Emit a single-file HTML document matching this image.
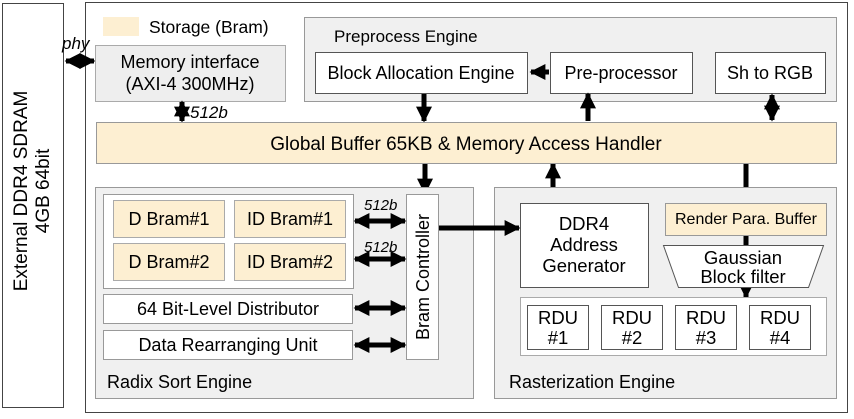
<!DOCTYPE html>
<html><head><meta charset="utf-8"><style>
html,body{margin:0;padding:0;background:#fff;}
svg{display:block;font-family:"Liberation Sans",Arial,sans-serif;}
</style></head><body>
<svg width="854" height="419" viewBox="0 0 854 419" xmlns="http://www.w3.org/2000/svg">
<defs>
<marker id="ah" viewBox="0 0 10 10" refX="9" refY="5" markerWidth="3.2" markerHeight="3.2" orient="auto-start-reverse"><path d="M0,0 L10,5 L0,10 z" fill="#000"/></marker>
</defs>
<g stroke="#444" stroke-width="1" fill="#fff">
<rect x="2.5" y="3.5" width="61" height="404"/>
<rect x="85.5" y="2.5" width="762" height="410"/>
</g>
<g fill="#000" font-size="19">
<text transform="translate(27,191) rotate(-90)" text-anchor="middle">External DDR4 SDRAM</text>
<text transform="translate(49,191) rotate(-90)" text-anchor="middle">4GB 64bit</text>
</g>
<rect x="103" y="17" width="36" height="19" fill="#fdefd2"/>
<text x="149" y="33" font-size="17.5">Storage (Bram)</text>
<text x="62" y="49" font-size="17" font-style="italic">phy</text>
<line x1="66" y1="61" x2="94" y2="61" stroke="#000" stroke-width="5" marker-start="url(#ah)" marker-end="url(#ah)"/>
<rect x="95.5" y="45.5" width="190" height="56" fill="#eeeeee" stroke="#aaa"/>
<text x="190" y="68" font-size="18" text-anchor="middle">Memory interface</text>
<text x="190" y="90" font-size="18" text-anchor="middle">(AXI-4 300MHz)</text>
<rect x="304.5" y="17.5" width="532" height="84" fill="#f0f0f0" stroke="#999"/>
<text x="334" y="42" font-size="17">Preprocess Engine</text>
<g fill="#fff" stroke="#555">
<rect x="315.5" y="52.5" width="212" height="41"/>
<rect x="550.5" y="52.5" width="142" height="41"/>
<rect x="715.5" y="52.5" width="110" height="41"/>
</g>
<g font-size="18" text-anchor="middle">
<text x="421" y="79">Block Allocation Engine</text>
<text x="621" y="79">Pre-processor</text>
<text x="770" y="79">Sh to RGB</text>
</g>
<g stroke="#000" stroke-width="5">
<line x1="549" y1="72" x2="531" y2="72" marker-end="url(#ah)"/>
<line x1="424" y1="94" x2="424" y2="121" marker-end="url(#ah)"/>
<line x1="588" y1="121" x2="588" y2="94" marker-end="url(#ah)"/>
<line x1="772" y1="95" x2="772" y2="120" marker-start="url(#ah)" marker-end="url(#ah)"/>
<line x1="182" y1="102" x2="182" y2="121" marker-start="url(#ah)" marker-end="url(#ah)"/>
<line x1="425" y1="164" x2="425" y2="193" marker-end="url(#ah)"/>
<line x1="553" y1="202" x2="553" y2="164" marker-end="url(#ah)"/>
<line x1="746" y1="164" x2="746" y2="203"/>
</g>
<text x="190" y="118" font-size="17" font-style="italic">512b</text>
<rect x="96.5" y="122.5" width="740" height="41" fill="#fdefd2" stroke="#999"/>
<text x="466" y="150" font-size="19" text-anchor="middle">Global Buffer 65KB &amp; Memory Access Handler</text>
<rect x="95.5" y="187.5" width="378" height="211" fill="#f0f0f0" stroke="#999"/>
<rect x="494.5" y="187.5" width="342" height="211" fill="#f0f0f0" stroke="#999"/>
<rect x="103.5" y="194.5" width="250" height="94" fill="#fff" stroke="#999"/>
<g fill="#fdefd2" stroke="#aaa">
<rect x="113.5" y="200.5" width="111" height="37"/>
<rect x="234.5" y="200.5" width="111" height="37"/>
<rect x="113.5" y="243.5" width="111" height="37"/>
<rect x="234.5" y="243.5" width="111" height="37"/>
</g>
<g font-size="18" text-anchor="middle">
<text x="169" y="225">D Bram#1</text>
<text x="290" y="225">ID Bram#1</text>
<text x="169" y="268">D Bram#2</text>
<text x="290" y="268">ID Bram#2</text>
</g>
<g fill="#fff" stroke="#999">
<rect x="103.5" y="294.5" width="249" height="29"/>
<rect x="103.5" y="330.5" width="249" height="29"/>
<rect x="406.5" y="194.5" width="32" height="165"/>
</g>
<g font-size="18" text-anchor="middle">
<text x="228" y="315">64 Bit-Level Distributor</text>
<text x="228" y="351">Data Rearranging Unit</text>
<text transform="translate(429,277) rotate(-90)">Bram Controller</text>
</g>
<g stroke="#000" stroke-width="5">
<line x1="355" y1="221" x2="405" y2="221" marker-start="url(#ah)" marker-end="url(#ah)"/>
<line x1="355" y1="259" x2="405" y2="259" marker-start="url(#ah)" marker-end="url(#ah)"/>
<line x1="355" y1="308" x2="405" y2="308" marker-start="url(#ah)" marker-end="url(#ah)"/>
<line x1="355" y1="345" x2="405" y2="345" marker-start="url(#ah)" marker-end="url(#ah)"/>
<line x1="439" y1="228" x2="519" y2="228" marker-end="url(#ah)"/>
<line x1="746" y1="236" x2="746" y2="297" marker-end="url(#ah)"/>
</g>
<g font-size="15" font-style="italic">
<text x="364" y="210">512b</text>
<text x="364" y="252">512b</text>
</g>
<text x="107" y="388" font-size="18">Radix Sort Engine</text>
<text x="509" y="388" font-size="18">Rasterization Engine</text>
<rect x="520.5" y="203.5" width="128" height="84" fill="#fff" stroke="#555"/>
<g font-size="18.5" text-anchor="middle">
<text x="584" y="230">DDR4</text>
<text x="584" y="251">Address</text>
<text x="584" y="272">Generator</text>
</g>
<rect x="665.5" y="203.5" width="161" height="32" fill="#fdefd2" stroke="#999"/>
<text x="746" y="224" font-size="16" text-anchor="middle">Render Para. Buffer</text>
<path d="M663.5,245.5 L823.5,245.5 L808.5,287.5 L678.5,287.5 Z" fill="#fff" stroke="#555"/>
<g font-size="18.5" text-anchor="middle">
<text x="743" y="264">Gaussian</text>
<text x="743" y="283">Block filter</text>
</g>
<rect x="520.5" y="297.5" width="306" height="58" fill="#fff" stroke="#aaa"/>
<g fill="#fff" stroke="#555">
<rect x="527.5" y="305.5" width="61" height="44"/>
<rect x="601.5" y="305.5" width="61" height="44"/>
<rect x="675.5" y="305.5" width="61" height="44"/>
<rect x="749.5" y="305.5" width="61" height="44"/>
</g>
<g font-size="18.5" text-anchor="middle">
<text x="558" y="324">RDU</text><text x="558" y="344">#1</text>
<text x="632" y="324">RDU</text><text x="632" y="344">#2</text>
<text x="706" y="324">RDU</text><text x="706" y="344">#3</text>
<text x="780" y="324">RDU</text><text x="780" y="344">#4</text>
</g>
</svg>
</body></html>
